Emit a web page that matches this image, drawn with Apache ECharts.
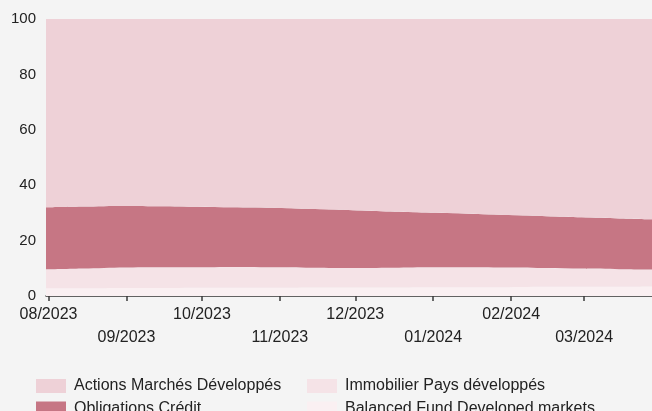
<!DOCTYPE html>
<html>
<head>
<meta charset="utf-8">
<script src="https://cdn.jsdelivr.net/npm/echarts@6/dist/echarts.min.js"></script>
<style>
  html, body { margin: 0; padding: 0; background: #f4f4f4; }
  #chart { width: 652px; height: 411px; }
</style>
</head>
<body>
<div id="chart"></div>
<script>
// dates of the points
var dates = [
  '2023-07-31', '2023-08-15', '2023-08-31', '2023-09-15', '2023-09-29',
  '2023-10-13', '2023-10-31', '2023-11-15', '2023-11-30', '2023-12-15',
  '2023-12-29', '2024-01-15', '2024-01-31', '2024-02-15', '2024-02-29',
  '2024-03-15', '2024-03-28'
];
// share of each asset class (%), bottom layer first
var balanced = [2.8, 2.8, 2.9, 2.9, 3.0, 3.0, 3.0, 3.1, 3.1, 3.1, 3.2, 3.2, 3.2, 3.3, 3.3, 3.3, 3.4];
var immobilier = [6.8, 7.1, 7.4, 7.5, 7.4, 7.5, 7.4, 7.1, 7.0, 7.1, 7.2, 7.2, 7.1, 6.8, 6.6, 6.4, 6.2];
var obligations = [22.4, 22.4, 22.2, 22.0, 21.8, 21.5, 21.4, 21.2, 20.9, 20.3, 19.7, 19.3, 18.9, 18.7, 18.5, 18.3, 18.1];
var actions = [68.0, 67.7, 67.5, 67.6, 67.8, 68.0, 68.2, 68.6, 69.0, 69.5, 69.9, 70.3, 70.8, 71.2, 71.6, 72.0, 72.3];
var yTicks = [0, 20, 40, 60, 80, 100];

var names = {
  act: 'Actions Marchés Développés',
  obl: 'Obligations Crédit',
  imm: 'Immobilier Pays développés',
  bal: 'Balanced Fund Developed markets'
};

function pairs (vals) {
  return vals.map(function (v, i) { return [dates[i], v] })
}

function area (name, vals, color) {
  return {
    name: name,
    type: 'line',
    stack: 'total',
    smooth: 0.3,
    showSymbol: false,
    symbol: 'none',
    color: color,
    lineStyle: { width: 0 },
    areaStyle: { color: color, opacity: 1 },
    data: pairs(vals)
  }
}

function legendCol (left, items) {
  return {
    left: left,
    top: 378,
    height: 60,
    padding: 0,
    orient: 'vertical',
    icon: 'rect',
    itemWidth: 30,
    itemHeight: 14,
    itemGap: 6.5,
    textStyle: { fontSize: 16, lineHeight: 14, color: '#222', fontFamily: font, padding: [0, 0, 0, 3] },
    data: items
  }
}

var font = '"Liberation Sans", Arial, sans-serif';
var chart = echarts.init(document.getElementById('chart'));
chart.setOption({
  backgroundColor: '#f4f4f4',
  animation: false,
  textStyle: { fontFamily: font },
  grid: { left: 46, right: 0, top: 19, bottom: 115 },
  legend: [
    legendCol(36, [names.act, names.obl]),
    legendCol(307, [names.imm, names.bal])
  ],
  xAxis: {
    type: 'time',
    min: '2023-07-31',
    max: '2024-03-28',
    minInterval: 28 * 86400000,
    maxInterval: 31 * 86400000,
    axisLine: { lineStyle: { color: '#3a3a3a', width: 1.5 } },
    axisTick: { length: 5, lineStyle: { color: '#3a3a3a', width: 1.5 } },
    splitLine: { show: false },
    axisLabel: {
      color: '#222',
      fontSize: 16,
      margin: 7,
      lineHeight: 23,
      showMinLabel: false,
      showMaxLabel: false,
      hideOverlap: false,
      formatter: function (value) {
        var d = new Date(value);
        var m = d.getMonth() + 1;
        var y = d.getFullYear();
        var idx = (y - 2023) * 12 + m - 8;
        var txt = (m < 10 ? '0' + m : m) + '/' + y;
        return idx % 2 === 0 ? txt : '\n' + txt;
      }
    }
  },
  yAxis: {
    type: 'value',
    min: yTicks[0],
    max: yTicks[yTicks.length - 1],
    interval: 20,
    axisLine: { show: false },
    axisTick: { show: false },
    splitLine: { show: true, lineStyle: { color: '#dcdcdc' } },
    axisLabel: { color: '#222', fontSize: 15, margin: 10 }
  },
  series: [
    area(names.bal, balanced, '#faf0f2'),
    area(names.imm, immobilier, '#f5e3e7'),
    area(names.obl, obligations, '#c67684'),
    area(names.act, actions, '#eed1d7')
  ]
})
</script>
</body>
</html>
